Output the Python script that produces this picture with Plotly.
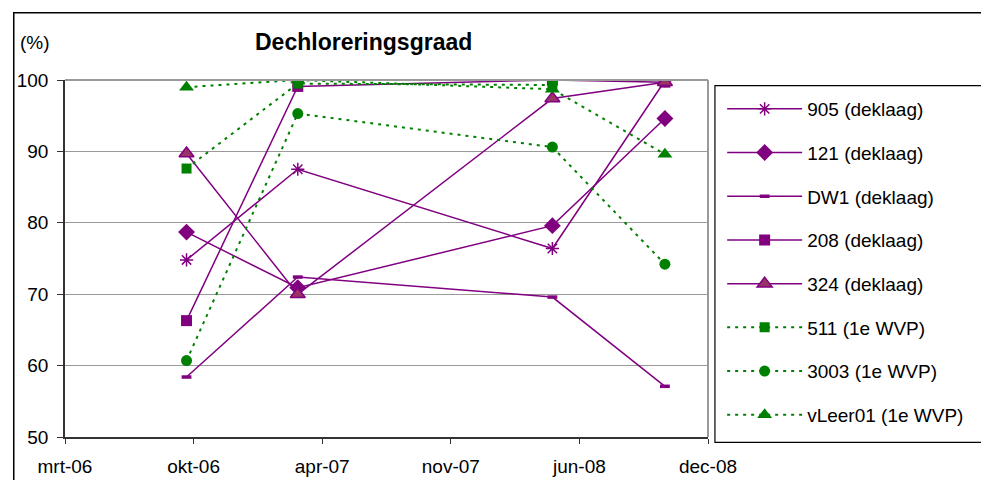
import plotly.graph_objects as go

# sampling dates (approximate)
dates = ["2006-09-30", "2007-03-22", "2008-04-21", "2008-10-13"]

# Dechloreringsgraad (%) per location
s905 = [74.8, 87.5, 76.4, 99.9]
s121 = [78.7, 70.9, 79.6, 94.6]
sDW1 = [58.4, 72.4, 69.6, 57.1]
s208 = [66.3, 99.1, 100.0, 99.7]
s324 = [89.7, 70.0, 97.4, 99.7]
s511 = [87.6, 99.5, 99.3, None]
s3003 = [60.7, 95.3, 90.6, 74.2]
vLeer01 = [99.0, 100.0, 98.7, 89.6]

tick_dates = ["2006-03-25", "2006-10-11", "2007-04-29",
              "2007-11-15", "2008-06-02", "2008-12-19"]
tick_labels = ["mrt-06", "okt-06", "apr-07", "nov-07", "jun-08", "dec-08"]

PURPLE = "#800080"
GREEN = "#008000"
PLUM = "#993366"
FONT = "Liberation Sans, Arial, sans-serif"

series = [
    ("905 (deklaag)", s905, PURPLE, dict(symbol="asterisk-open", size=11,
                                         line=dict(color=PURPLE, width=1.5))),
    ("121 (deklaag)", s121, PURPLE, dict(symbol="diamond", size=13, color=PURPLE)),
    ("DW1 (deklaag)", sDW1, PURPLE, dict(symbol="line-ew-open", size=7,
                                         line=dict(color=PURPLE, width=3.5))),
    ("208 (deklaag)", s208, PURPLE, dict(symbol="square", size=11, color=PURPLE)),
    ("324 (deklaag)", s324, PURPLE, dict(symbol="triangle-up", size=13, color=PLUM,
                                         line=dict(color=PURPLE, width=1.5))),
    ("511 (1e WVP)", s511, GREEN, dict(symbol="square", size=10, color=GREEN)),
    ("3003 (1e WVP)", s3003, GREEN, dict(symbol="circle", size=11, color=GREEN)),
    ("vLeer01 (1e WVP)", vLeer01, GREEN, dict(symbol="triangle-up", size=13, color=GREEN)),
]

fig = go.Figure()
for i, (name, vals, color, marker) in enumerate(series):
    dashed = color == GREEN
    fig.add_trace(go.Scatter(
        x=dates, y=vals, name=name, mode="lines+markers",
        legendgroup="g%d" % i,
        line=dict(color=color, width=2 if dashed else 1.5,
                  dash="3px,5px" if dashed else "solid"),
        marker=marker,
        connectgaps=False,
    ))

fig.update_xaxes(
    type="date", range=[tick_dates[0], tick_dates[-1]],
    tickvals=tick_dates, ticktext=tick_labels, automargin=False,
    ticks="outside", ticklen=5, tickcolor="#333333", ticklabelstandoff=6,
    showline=True, linecolor="#333333", linewidth=1.5,
    showgrid=False, zeroline=False,
    tickfont=dict(family=FONT, size=19, color="black"),
)
fig.update_yaxes(
    range=[50, 100], dtick=10, automargin=False,
    ticks="outside", ticklen=6, tickcolor="#333333", ticklabelstandoff=5,
    showline=True, linecolor="#333333", linewidth=1.5,
    gridcolor="#9a9a9a", gridwidth=1.2, zeroline=False,
    tickfont=dict(family=FONT, size=19, color="black"),
)

shapes = [
    # outer chart border (cropped at right / bottom)
    dict(type="rect", xref="paper", yref="paper", x0=-0.0797, x1=1.45, y0=-0.2, y1=1.1885,
         line=dict(color="black", width=1.5), layer="below"),
    # plot area border, top and right
    dict(type="line", xref="paper", yref="paper", x0=0, x1=1, y0=1, y1=1,
         line=dict(color="#9a9a9a", width=2)),
    dict(type="line", xref="paper", yref="paper", x0=1, x1=1, y0=0, y1=1,
         line=dict(color="#9a9a9a", width=2)),
    # legend box
    dict(type="rect", xref="paper", yref="paper", x0=1.0108, x1=1.45, y0=-0.0148, y1=0.984,
         line=dict(color="black", width=1.2)),
]

fig.update_layout(
    width=981, height=480,
    margin=dict(l=65, r=270, t=80, b=43),
    paper_bgcolor="white", plot_bgcolor="white",
    font=dict(family=FONT, size=19, color="black"),
    showlegend=True,
    legend=dict(
        x=1.022, y=0.972, xanchor="left", yanchor="top",
        traceorder="grouped", tracegroupgap=16, itemwidth=75,
        font=dict(family=FONT, size=19, color="black"),
        bgcolor="rgba(0,0,0,0)", borderwidth=0,
    ),
    shapes=shapes,
    annotations=[
        dict(text="<b>Dechloreringsgraad</b>", xref="paper", yref="paper",
             x=0.464, y=1.106, showarrow=False, xanchor="center", yanchor="middle",
             font=dict(family=FONT, size=23, color="black")),
        dict(text="(%)", xref="paper", yref="paper", x=-0.0728, y=1.106,
             showarrow=False, xanchor="left", yanchor="middle",
             font=dict(family=FONT, size=19, color="black")),
    ],
)

# drop the default page margin so the figure sits at the window's corner
fig.write_html("out.html", config={"displayModeBar": False},
               post_script="document.body.style.margin='0';")
